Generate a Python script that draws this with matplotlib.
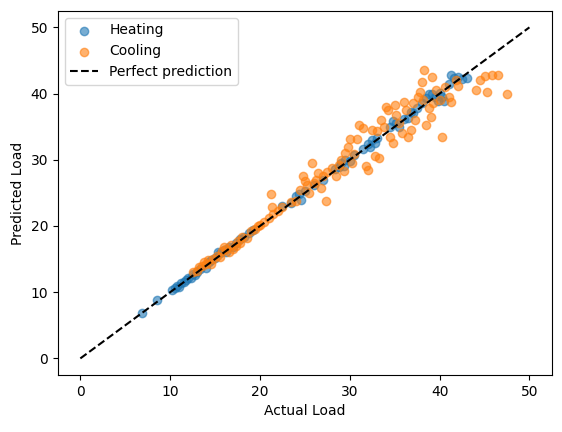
import matplotlib
matplotlib.use("Agg")
import matplotlib.pyplot as plt

# (actual, predicted) pairs
heating = [
    (6.9, 6.9), (8.5, 8.8), (10.2, 10.3), (10.5, 10.6), (10.8, 11.0), (11.0, 10.8),
    (11.2, 11.4), (11.5, 11.6), (11.8, 11.9), (12.0, 12.2), (12.3, 12.1), (12.5, 12.7),
    (12.8, 12.6), (13.0, 13.1), (13.3, 13.5), (14.0, 13.6), (14.3, 14.5), (14.6, 14.8),
    (15.0, 15.2), (15.3, 16.0), (15.6, 15.9), (16.0, 16.4), (16.2, 16.0), (16.5, 16.8),
    (17.0, 16.9), (17.3, 17.5), (17.8, 18.0), (18.2, 18.4), (18.8, 18.9), (19.2, 19.4),
    (22.5, 23.0), (23.5, 23.4), (24.0, 24.5), (24.3, 24.8), (24.6, 24.0), (25.0, 25.3),
    (26.0, 26.2), (27.0, 27.0), (28.3, 28.6), (28.8, 28.9), (29.0, 29.5), (29.3, 29.1),
    (29.5, 30.0), (30.0, 29.8), (30.5, 30.7), (31.5, 31.6), (32.0, 32.4), (32.3, 32.0),
    (32.5, 33.0), (32.8, 32.6), (33.0, 33.3), (34.5, 35.0), (34.8, 35.8), (35.2, 35.5),
    (35.5, 34.9), (36.0, 36.2), (36.5, 36.3), (36.8, 37.2), (37.0, 37.0), (37.5, 37.8),
    (38.0, 38.5), (38.5, 39.3), (38.8, 39.9), (39.2, 40.0), (39.5, 39.5), (39.8, 38.9),
    (40.0, 40.1), (40.3, 39.5), (40.5, 38.9), (41.0, 41.5), (41.3, 42.8), (41.6, 42.3),
    (42.0, 42.5), (42.5, 42.2), (43.0, 42.3),
]
cooling = [
    (12.5, 13.0), (13.0, 13.2), (13.5, 14.0), (13.8, 14.5), (14.2, 14.8), (14.5, 14.3),
    (14.8, 15.0), (15.2, 15.5), (15.5, 15.3), (15.8, 16.2), (16.2, 16.5), (16.5, 16.0),
    (16.8, 17.2), (17.0, 16.6), (17.3, 17.0), (17.6, 17.8), (18.0, 18.3), (18.5, 18.2),
    (19.0, 19.2), (19.5, 19.6), (20.0, 20.2), (20.5, 20.6), (21.0, 21.2), (21.3, 22.8),
    (21.2, 24.9), (21.5, 21.8), (22.5, 22.8), (23.5, 23.6), (24.0, 23.8), (24.5, 25.5),
    (24.8, 27.5), (25.0, 26.8), (25.5, 25.0), (25.8, 29.5), (26.0, 26.5), (26.5, 28.0),
    (26.8, 25.8), (27.0, 27.6), (27.3, 23.8), (27.5, 28.2), (28.0, 28.8), (28.5, 27.5),
    (29.0, 30.0), (29.3, 28.3), (29.5, 31.0), (29.8, 32.0), (30.0, 33.2), (30.3, 29.5),
    (30.5, 30.8), (31.0, 35.3), (31.5, 34.8), (31.8, 29.0), (32.0, 28.5), (32.5, 34.5),
    (32.8, 30.5), (33.0, 34.3), (33.3, 30.2), (33.5, 36.0), (33.8, 35.0), (34.0, 38.0),
    (34.3, 37.5), (34.5, 33.5), (34.8, 32.5), (35.0, 38.2), (35.2, 36.8), (35.5, 35.5),
    (35.8, 34.0), (36.0, 38.8), (36.3, 37.5), (36.5, 33.5), (36.8, 34.5), (37.0, 38.5),
    (37.3, 36.0), (37.6, 39.5), (37.8, 40.2), (38.0, 41.8), (38.3, 43.5), (38.5, 35.3),
    (38.8, 37.8), (39.0, 36.5), (39.3, 38.5), (39.6, 40.5), (40.0, 39.0), (40.3, 33.5),
    (40.6, 41.0), (41.0, 39.5), (41.3, 38.8), (41.8, 42.0), (42.0, 41.2), (44.0, 40.5),
    (44.5, 42.0), (45.0, 42.7), (45.3, 40.2), (45.8, 42.8), (46.5, 42.8), (47.5, 40.0),
    (39.2, 42.5), (38.2, 39.0), (30.8, 33.2), (28.8, 29.2), (26.2, 27.0), (25.2, 26.2),
    (22.0, 22.3), (19.8, 20.0), (17.8, 17.5), (16.0, 16.8), (14.0, 14.2), (13.2, 13.8),
]
perfect_line = [0, 50]

fig, ax = plt.subplots(figsize=(5.62, 4.32), dpi=100)
hx, hy = zip(*heating)
cx, cy = zip(*cooling)
ax.scatter(hx, hy, alpha=0.6, label="Heating")
ax.scatter(cx, cy, alpha=0.6, label="Cooling")
ax.plot(perfect_line, perfect_line, "k--", label="Perfect prediction")
ax.set_xlabel("Actual Load")
ax.set_ylabel("Predicted Load")
ax.legend(loc="upper left")
fig.subplots_adjust(left=0.103, right=0.982, bottom=0.132, top=0.975)
fig.savefig("out.png")
